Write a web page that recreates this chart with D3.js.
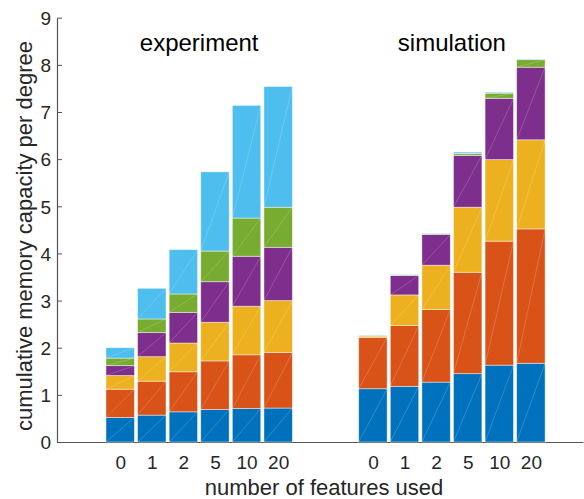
<!DOCTYPE html>
<html>
<head>
<meta charset="utf-8">
<script src="https://cdn.jsdelivr.net/npm/d3@7"></script>
<style>
  html, body { margin: 0; padding: 0; background: #fff; }
  svg { display: block; font-family: "Liberation Sans", Arial, Helvetica, sans-serif; }
</style>
</head>
<body>
<svg id="chart" width="584" height="499"></svg>
<script>
// Number of features used (tick labels under each group)
const categories = ["0", "1", "2", "5", "10", "20"];
const groupTitles = ["experiment", "simulation"];
const yTicks = [0, 1, 2, 3, 4, 5, 6, 7, 8, 9];

// Per-layer contributions, stacked bottom to top (experiment)
const expLayer1 = [0.52, 0.57, 0.64, 0.69, 0.71, 0.72];
const expLayer2 = [0.60, 0.72, 0.85, 1.03, 1.14, 1.18];
const expLayer3 = [0.29, 0.52, 0.61, 0.82, 1.03, 1.10];
const expLayer4 = [0.21, 0.51, 0.65, 0.86, 1.06, 1.13];
const expLayer5 = [0.16, 0.29, 0.39, 0.65, 0.81, 0.85];
const expLayer6 = [0.22, 0.65, 0.94, 1.68, 2.39, 2.56];

// Per-layer contributions, stacked bottom to top (simulation)
const simLayer1 = [1.13, 1.18, 1.27, 1.45, 1.63, 1.67];
const simLayer2 = [1.09, 1.29, 1.54, 2.15, 2.63, 2.85];
const simLayer3 = [0.03, 0.65, 0.94, 1.38, 1.73, 1.89];
const simLayer4 = [0.005, 0.41, 0.65, 1.10, 1.30, 1.54];
const simLayer5 = [0.005, 0.015, 0.02, 0.04, 0.11, 0.16];
const simLayer6 = [0.01, 0.01, 0.01, 0.03, 0.02, 0.015];

const layerColors = ["#0072BD", "#D95319", "#EDB120", "#7E2F8E", "#77AC30", "#4DBEEE"];

// Bar slot positions: experiment at 1..6, simulation at 9..14
const expPos = [1, 2, 3, 4, 5, 6];
const simPos = [9, 10, 11, 12, 13, 14];

const groups = [
  { title: groupTitles[0], pos: expPos, layers: [expLayer1, expLayer2, expLayer3, expLayer4, expLayer5, expLayer6] },
  { title: groupTitles[1], pos: simPos, layers: [simLayer1, simLayer2, simLayer3, simLayer4, simLayer5, simLayer6] }
];

const svg = d3.select("#chart");
const x = d3.scaleLinear().domain([-1, 15.65]).range([57, 583]);
const y = d3.scaleLinear().domain([0, 9]).range([442, 17.7]);
const slot = x(1) - x(0);
const barW = slot * 0.9;
const axisColor = "#262626";

// Axes (ticks point inward, drawn under the bars)
const yAxis = d3.axisLeft(y).tickValues(yTicks).tickSizeInner(-5).tickSizeOuter(0).tickPadding(6);
const gy = svg.append("g").attr("transform", `translate(${x(-1)},0)`).call(yAxis);
gy.select(".domain").attr("stroke", "#555").attr("stroke-width", 1.2);
gy.selectAll(".tick line").attr("stroke", "#555");
gy.selectAll(".tick text").attr("fill", axisColor).style("font-size", "19px").attr("dy", "0.36em");

const allPos = expPos.concat(simPos);
const allLabels = categories.concat(categories);
const xAxis = d3.axisBottom(x).tickValues(allPos).tickFormat((d, i) => allLabels[i])
  .tickSizeInner(-5).tickSizeOuter(0).tickPadding(14);
const gx = svg.append("g").attr("transform", `translate(0,${y(0)})`).call(xAxis);
gx.select(".domain").attr("stroke", "#555").attr("stroke-width", 1.2);
gx.selectAll(".tick line").attr("stroke", "#555");
gx.selectAll(".tick text").attr("fill", axisColor).style("font-size", "19px");

// Stacked bars
groups.forEach(g => {
  const rows = categories.map((c, i) => {
    const r = { pos: g.pos[i] };
    g.layers.forEach((arr, k) => { r["L" + k] = arr[i]; });
    return r;
  });
  const keys = g.layers.map((_, k) => "L" + k);
  const series = d3.stack().keys(keys)(rows);

  const layerG = svg.append("g").selectAll("g").data(series).join("g")
    .attr("fill", (d, k) => layerColors[k]);

  layerG.selectAll("rect").data(d => d).join("rect")
    .attr("x", d => x(d.data.pos) - barW / 2)
    .attr("width", barW)
    .attr("y", d => y(d[1]))
    .attr("height", d => y(d[0]) - y(d[1]))
    .attr("stroke", "#ffffff")
    .attr("stroke-opacity", 0.55)
    .attr("stroke-width", 0.8);

  // faint diagonal seam across each segment
  layerG.selectAll("line").data(d => d).join("line")
    .attr("x1", d => x(d.data.pos) - barW / 2)
    .attr("y1", d => y(d[0]))
    .attr("x2", d => x(d.data.pos) + barW / 2)
    .attr("y2", d => y(d[1]))
    .attr("stroke", "#ffffff")
    .attr("stroke-opacity", 0.3)
    .attr("stroke-width", 0.6);

  // group title
  const cx = (x(g.pos[0]) + x(g.pos[g.pos.length - 1])) / 2;
  svg.append("text")
    .attr("x", cx).attr("y", 51)
    .attr("text-anchor", "middle")
    .attr("fill", "#000")
    .style("font-size", "24px")
    .text(g.title);
});

// Axis labels
svg.append("text")
  .attr("transform", `translate(32,236) rotate(-90)`)
  .attr("text-anchor", "middle")
  .attr("fill", axisColor)
  .style("font-size", "22px")
  .text("cumulative memory capacity per degree");

svg.append("text")
  .attr("x", (x(-1) + 583) / 2 + 4).attr("y", 495)
  .attr("text-anchor", "middle")
  .attr("fill", axisColor)
  .style("font-size", "22px")
  .text("number of features used");
</script>
</body>
</html>
